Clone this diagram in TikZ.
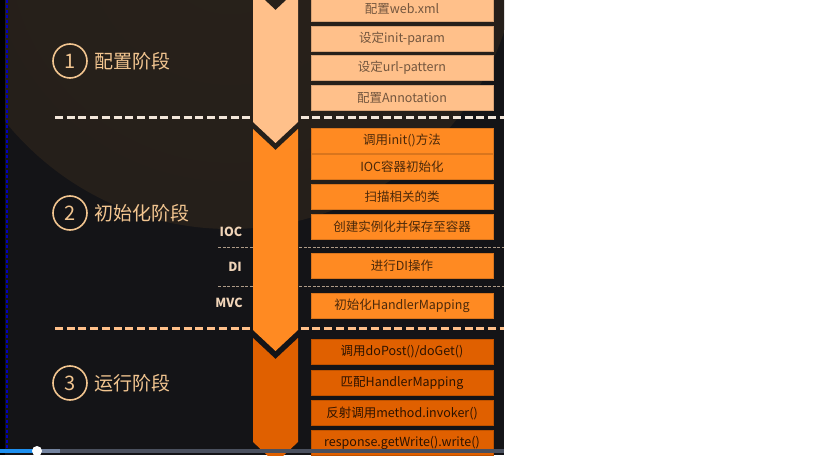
\documentclass[tikz,border=0pt]{standalone}
\usepackage{fontspec}
\setmainfont{Noto Sans CJK SC}
\definecolor{bgdark}{HTML}{141417}
\definecolor{glow}{HTML}{28211A}
\definecolor{peach}{HTML}{FFC08A}
\definecolor{midorange}{HTML}{FF8A22}
\definecolor{deeporange}{HTML}{E06000}
\definecolor{cream}{HTML}{F2E6DA}
\definecolor{phasetext}{HTML}{F2C590}
\definecolor{tagtext}{HTML}{F0D4B8}
\definecolor{barblue}{HTML}{1E90F0}
\definecolor{bargrey}{HTML}{7484A0}
\definecolor{bardark}{HTML}{4A505E}
\begin{document}
\begin{tikzpicture}[x=1pt,y=-1pt,
    stepbox/.style={minimum width=182pt,minimum height=25pt,inner sep=0pt,
      font=\fontsize{12.5}{12.5}\selectfont},
    confbox/.style={stepbox,fill=peach,draw=peach!85!black,text=peach!45!black},
    initbox/.style={stepbox,fill=midorange,draw=midorange!85!black,text=midorange!30!black},
    runbox/.style={stepbox,fill=deeporange,draw=deeporange!85!black,text=deeporange!20!black},
    phasenum/.style={circle,draw=phasetext,line width=1.6pt,minimum size=34pt,inner sep=0pt,
      text=phasetext,font=\fontsize{20}{20}\selectfont},
    phasename/.style={right=6pt,text=phasetext,inner sep=0pt,font=\fontsize{19}{19}\selectfont},
    tag/.style={text=tagtext,font=\fontsize{12.5}{12.5}\selectfont\bfseries},
    sepline/.style={line width=3pt,dash pattern=on 8pt off 3.7pt},
    subline/.style={line width=1pt,tagtext!70!bgdark,dash pattern=on 3pt off 1.5pt}]
  \useasboundingbox (0,0) rectangle (819,465);
  \fill[white] (0,0) rectangle (819,465);
  \fill[bgdark] (0,0) rectangle (504,455);
  \begin{scope}
    \clip (0,0) rectangle (504,455);
    \shade[inner color=glow!100!white,outer color=glow!85!bgdark] (230,-60) circle (289pt);
    % separators
    \draw[sepline,cream] (55,118) -- (504,118);
    \draw[sepline,peach] (55,328) -- (504,328);
    \draw[subline] (218,247) -- (504,247);
    \draw[subline] (218,286) -- (504,286);
    % chevron column
    \fill[peach] (253,-11) -- (275.5,10) -- (298,-11) -- (298,122) -- (275.5,143) -- (253,122) -- cycle;
    \fill[midorange] (253,129) -- (275.5,150) -- (298,129) -- (298,330) -- (275.5,351) -- (253,330) -- cycle;
    \fill[deeporange] (253,338) -- (275.5,359) -- (298,338) -- (298,442) -- (275.5,463) -- (253,442) -- cycle;
    % steps
    \node[confbox] (c1) at (402,8.5) {配置web.xml};
    \node[confbox] (c2) at (402,38.5) {设定init-param};
    \node[confbox] (c3) at (402,67.5) {设定url-pattern};
    \node[confbox] (c4) at (402,97.5) {配置Annotation};
    \node[initbox] (i1) at (402,140.5) {调用init()方法};
    \node[initbox] (i2) at (402,167) {IOC容器初始化};
    \node[initbox] (i3) at (402,196.5) {扫描相关的类};
    \node[initbox] (i4) at (402,226.5) {创建实例化并保存至容器};
    \node[initbox] (i5) at (402,265.5) {进行DI操作};
    \node[initbox] (i6) at (402,305.5) {初始化HandlerMapping};
    \node[runbox] (r1) at (402,352) {调用doPost()/doGet()};
    \node[runbox] (r2) at (402,383) {匹配HandlerMapping};
    \node[runbox] (r3) at (402,413) {反射调用method.invoker()};
    \node[runbox] (r4) at (402,442.5) {response.getWrite().write()};
  \end{scope}
  % phases
  \node[phasenum] (n1) at (70,61) {1};
  \node[phasename] (p1) at (n1.east) {配置阶段};
  \node[phasenum] (n2) at (70,213) {2};
  \node[phasename] (p2) at (n2.east) {初始化阶段};
  \node[phasenum] (n3) at (70,383) {3};
  \node[phasename] (p3) at (n3.east) {运行阶段};
  \node[tag] (ioc) at (231,232) {IOC};
  \node[tag] (di) at (235,267) {DI};
  \node[tag] (mvc) at (229,303) {MVC};
  % left edge and player bar
  \fill[black] (0,0) rectangle (5,455);
  \draw[blue!75!black,line width=2pt,dash pattern=on 3pt off 2pt] (7,0) -- (7,449);
  \fill[barblue] (0,449) rectangle (36,453);
  \fill[bargrey] (36,449) rectangle (60,453);
  \fill[bardark] (60,449) rectangle (504,453);
  \fill[white] (37,451) circle (5pt);
\end{tikzpicture}
\end{document}
